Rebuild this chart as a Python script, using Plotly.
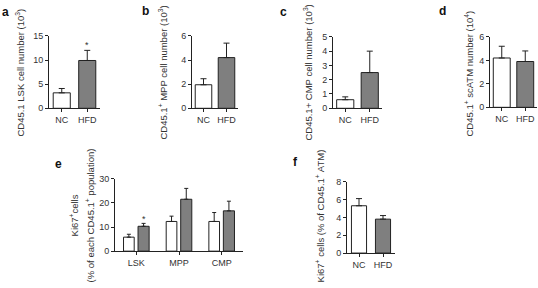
import plotly.graph_objects as go

W, H = 538, 288

# ---------------- data ----------------
groups = ["NC", "HFD"]
lsk_mean = [3.2, 9.9]
lsk_err = [0.9, 2.1]
mpp_mean = [1.95, 4.2]
mpp_err = [0.5, 1.2]
cmp_mean = [0.6, 2.5]
cmp_err = [0.2, 1.5]
atm_mean = [4.2, 3.9]
atm_err = [1.0, 0.9]

ki67_pops = ["LSK", "MPP", "CMP"]
ki67_nc = [5.8, 12.3, 12.3]
ki67_nc_err = [1.2, 2.2, 3.7]
ki67_hfd = [10.3, 21.5, 16.7]
ki67_hfd_err = [1.2, 4.5, 4.0]

ki67_atm_mean = [5.3, 3.8]
ki67_atm_err = [0.8, 0.4]

fill_colors = ["#ffffff", "#7f7f7f"]
line_col = "#222222"
FONT = "Liberation Sans, Arial, sans-serif"

fig = go.Figure()

def px_x(p):
    return p / W

def px_y(p):
    return 1 - p / H

def add_pair(idx, means, errs, width):
    fig.add_trace(go.Bar(
        x=groups, y=means,
        marker=dict(color=fill_colors, line=dict(color=line_col, width=1)),
        width=width,
        error_y=dict(type="data", array=errs, arrayminus=[0, 0], symmetric=False,
                     color=line_col, thickness=1, width=3),
        xaxis="x" if idx == 1 else f"x{idx}",
        yaxis="y" if idx == 1 else f"y{idx}",
        showlegend=False,
    ))

add_pair(1, lsk_mean, lsk_err, 0.67)
add_pair(2, mpp_mean, mpp_err, 0.72)
add_pair(3, cmp_mean, cmp_err, 0.70)
add_pair(4, atm_mean, atm_err, 0.72)

fig.add_trace(go.Bar(
    x=ki67_pops, y=ki67_nc, offset=-0.30, width=0.25,
    marker=dict(color=fill_colors[0], line=dict(color=line_col, width=1)),
    error_y=dict(type="data", array=ki67_nc_err, arrayminus=[0, 0, 0], symmetric=False,
                 color=line_col, thickness=1, width=2),
    xaxis="x5", yaxis="y5", showlegend=False))
fig.add_trace(go.Bar(
    x=ki67_pops, y=ki67_hfd, offset=0.04, width=0.26,
    marker=dict(color=fill_colors[1], line=dict(color=line_col, width=1)),
    error_y=dict(type="data", array=ki67_hfd_err, arrayminus=[0, 0, 0], symmetric=False,
                 color=line_col, thickness=1, width=2),
    xaxis="x5", yaxis="y5", showlegend=False))

add_pair(6, ki67_atm_mean, ki67_atm_err, 0.63)

# ---------------- axes ----------------
axis_common = dict(showline=True, linecolor=line_col, linewidth=1, ticks="outside",
                   ticklen=3, tickwidth=1, tickcolor=line_col, showgrid=False,
                   zeroline=False, tickfont=dict(family=FONT, size=9, color="#333"),
                   fixedrange=True)

# panel: (x0, x1, ytop, ybottom, yrange, dtick, xrange)
panels = {
    1: (49, 100, 32, 107, [0, 15], 5, [-0.5, 1.5]),
    2: (192, 238, 32, 107, [0, 6], 2, [-0.5, 1.5]),
    3: (333, 382, 33, 107, [0, 5], 1, [-0.5, 1.5]),
    4: (490, 537, 33, 106, [0, 6], 2, [-0.5, 1.5]),
    5: (115, 243, 180, 255, [0, 30], 10, [-0.5, 2.5]),
    6: (347, 395, 183, 257, [0, 8], 2, [-0.5, 1.5]),
}
layout_axes = {}
for i, (x0, x1, yt, yb, yr, dt, xr) in panels.items():
    xname = "xaxis" if i == 1 else f"xaxis{i}"
    yname = "yaxis" if i == 1 else f"yaxis{i}"
    xa = "x" if i == 1 else f"x{i}"
    ya = "y" if i == 1 else f"y{i}"
    layout_axes[xname] = dict(axis_common, domain=[px_x(x0), px_x(x1)], anchor=ya,
                              range=xr, type="category")
    layout_axes[yname] = dict(axis_common, domain=[px_y(yb), px_y(yt)], anchor=xa,
                              range=yr, dtick=dt)

fig.update_layout(**layout_axes)

# ---------------- annotations ----------------
ann = []
letters = [("a", 5, 7), ("b", 145, 6), ("c", 283, 7), ("d", 442, 6), ("e", 58, 165), ("f", 295, 163)]
for t, x, y in letters:
    ann.append(dict(text=f"<b>{t}</b>", x=px_x(x), y=px_y(y), xref="paper", yref="paper",
                    showarrow=False, xanchor="center", yanchor="middle",
                    font=dict(family=FONT, size=12, color="#111")))

titles = [
    ("CD45.1 LSK cell number (10<sup>3</sup>)", 20, 70),
    ("CD45.1<sup>+</sup> MPP cell number (10<sup>3</sup>)", 163, 70),
    ("CD45.1+ CMP cell number (10<sup>3</sup>)", 308, 70),
    ("CD45.1<sup>+</sup> scATM number (10<sup>4</sup>)", 469, 71),
    ("Ki67<sup>+</sup>cells", 74, 218),
    ("(% of each CD45.1<sup>+</sup> population)", 90, 218),
    ("Ki67<sup>+</sup> cells (% of CD45.1<sup>+</sup> ATM)", 320, 219),
]
for t, x, y in titles:
    ann.append(dict(text=t, x=px_x(x), y=px_y(y), xref="paper", yref="paper",
                    showarrow=False, textangle=-90, xanchor="center", yanchor="middle",
                    font=dict(family=FONT, size=9.5, color="#333")))

# significance asterisks
ann.append(dict(text="*", x="HFD", y=lsk_mean[1] + lsk_err[1], xref="x", yref="y",
                showarrow=False, yanchor="bottom", yshift=-2,
                font=dict(family=FONT, size=9, color="#333")))
ann.append(dict(text="*", x=0.17, y=ki67_hfd[0] + ki67_hfd_err[0], xref="x5", yref="y5",
                showarrow=False, yanchor="bottom", yshift=-3,
                font=dict(family=FONT, size=9, color="#333")))

fig.update_layout(
    width=W, height=H, margin=dict(l=0, r=0, t=0, b=0),
    paper_bgcolor="white", plot_bgcolor="white",
    annotations=ann, barmode="overlay", showlegend=False,
    font=dict(family=FONT),
)

fig.write_html("out.html", config={"displayModeBar": False},
               post_script="document.body.style.margin='0';document.body.style.padding='0';")
